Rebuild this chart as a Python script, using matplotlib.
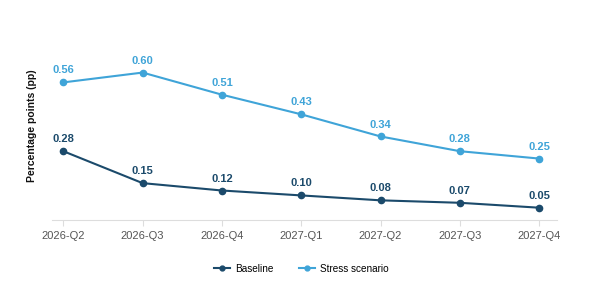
import matplotlib
matplotlib.use("Agg")
import matplotlib.pyplot as plt
from matplotlib.lines import Line2D

quarters = ["2026-Q2", "2026-Q3", "2026-Q4", "2027-Q1", "2027-Q2", "2027-Q3", "2027-Q4"]
baseline = [0.28, 0.15, 0.12, 0.10, 0.08, 0.07, 0.05]
stress = [0.56, 0.60, 0.51, 0.43, 0.34, 0.28, 0.25]

c_base = "#1b4a6b"
c_stress = "#3fa4d8"

plt.rcParams['font.family'] = ['Liberation Sans', 'DejaVu Sans']
fig = plt.figure(figsize=(6, 3), dpi=100)
ax = fig.add_axes([0.087, 0.2667, 0.842, 0.5733])
x = list(range(len(quarters)))
ax.plot(x, baseline, color=c_base, marker='o', markersize=4.5, linewidth=1.5, label="Baseline")
ax.plot(x, stress, color=c_stress, marker='o', markersize=4.5, linewidth=1.5, label="Stress scenario")
for xi, v in zip(x, baseline):
    ax.annotate(f"{v:.2f}", (xi, v), xytext=(0, 5), textcoords='offset points', ha='center', va='bottom',
                color=c_base, fontsize=8, fontweight='bold')
for xi, v in zip(x, stress):
    ax.annotate(f"{v:.2f}", (xi, v), xytext=(0, 5), textcoords='offset points', ha='center', va='bottom',
                color=c_stress, fontsize=8, fontweight='bold')
ax.set_xlim(-0.14, 6.23)
ax.set_ylim(0, 0.7)
ax.set_xticks(x)
ax.set_xticklabels(quarters, color="#555555", fontsize=8)
ax.set_yticks([])
for s in ['top', 'right', 'left']:
    ax.spines[s].set_visible(False)
ax.spines['bottom'].set_color("#dddddd")
ax.tick_params(axis='x', colors="#dddddd", length=4, labelcolor="#555555", pad=4)
ax.set_ylabel("Percentage points (pp)", fontsize=7.5, fontweight='bold', color="#111111")
ax.yaxis.set_label_coords(-0.03, 0.547)
handles = [Line2D([], [], color=c_base, marker='o', markersize=3.5, linewidth=1.5),
           Line2D([], [], color=c_stress, marker='o', markersize=3.5, linewidth=1.5)]
fig.legend(handles, ["Baseline", "Stress scenario"], loc='center', bbox_to_anchor=(0.502, 0.105), ncol=2,
           frameon=False, fontsize=7.2, handlelength=1.6, columnspacing=2.6, handletextpad=0.5)
fig.savefig("out.png", dpi=100, facecolor='white')
